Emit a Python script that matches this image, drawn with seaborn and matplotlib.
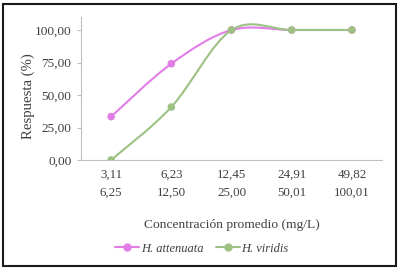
import numpy as np
import pandas as pd
import matplotlib
matplotlib.use("Agg")
import matplotlib.pyplot as plt
import seaborn as sns
from matplotlib.lines import Line2D
from matplotlib.path import Path
from matplotlib.patches import PathPatch, Rectangle

# data
conc_row1 = ["3,11", "6,23", "12,45", "24,91", "49,82"]
conc_row2 = ["6,25", "12,50", "25,00", "50,01", "100,01"]
attenuata = [33.33, 74.07, 100.0, 100.0, 100.0]
viridis = [0.0, 40.74, 100.0, 100.0, 100.0]
species = ["H. attenuata", "H. viridis"]
colors = {"H. attenuata": "#E07EE6", "H. viridis": "#9DC183"}

df = pd.DataFrame({
    "x": list(range(len(conc_row1))) * 2,
    "resp": attenuata + viridis,
    "sp": [species[0]] * len(attenuata) + [species[1]] * len(viridis),
})

sns.set_theme(style="white")
plt.rcParams["font.family"] = ["Liberation Serif", "DejaVu Serif"]
txt = "#404040"

fig = plt.figure(figsize=(4, 2.69), dpi=100)
ax = fig.add_axes([81 / 400, 1 - 160 / 269, 301 / 400, 143 / 269])


def smooth_path(xs, ys):
    # Excel-like smoothed line: cubic bezier through the points
    pts = np.column_stack([xs, ys]).astype(float)
    n = len(pts)
    verts = [pts[0]]
    codes = [Path.MOVETO]
    for i in range(n - 1):
        p0 = pts[i - 1] if i > 0 else pts[i]
        p1, p2 = pts[i], pts[i + 1]
        p3 = pts[i + 2] if i + 2 < n else pts[i + 1]
        verts += [p1 + (p2 - p0) / 6, p2 - (p3 - p1) / 6, p2]
        codes += [Path.CURVE4] * 3
    return Path(verts, codes)


for sp in species:
    d = df[df["sp"] == sp]
    ax.add_patch(PathPatch(smooth_path(d["x"], d["resp"]), fill=False,
                           edgecolor=colors[sp], lw=1.5, zorder=2))

sns.scatterplot(data=df, x="x", y="resp", hue="sp", palette=colors,
                s=30, edgecolor="none", legend=False, ax=ax, zorder=3)

ax.set_xlim(-0.5, 4.5)
ax.set_ylim(0, 110)
ax.set_yticks([0, 25, 50, 75, 100])
ax.set_yticklabels(["0,00", "25,00", "50,00", "75,00", "100,00"])
ax.set_xticks(range(len(conc_row1)))
ax.set_xticklabels([a + "\n" + b for a, b in zip(conc_row1, conc_row2)],
                   linespacing=1.75)
ax.set_xticks(np.arange(-0.5, 5, 1), minor=True)
ax.tick_params(axis="x", which="major", length=0, pad=6, labelsize=9.4,
               labelcolor=txt)
ax.tick_params(axis="x", which="minor", length=30, width=0.8,
               color="#d9d9d9", direction="out")
ax.tick_params(axis="y", which="major", left=True, length=3, width=0.8,
               color="#bfbfbf", pad=4, labelsize=9.6, labelcolor=txt)

for s in ["top", "right"]:
    ax.spines[s].set_visible(False)
for s in ["left", "bottom"]:
    ax.spines[s].set_color("#bfbfbf")
    ax.spines[s].set_linewidth(0.8)

ax.set_xlabel("Concentración promedio (mg/L)", fontsize=9.7, color=txt)
ax.set_ylabel("Respuesta (%)", fontsize=10.6, color=txt)
ax.xaxis.set_label_coords(0.502, -0.41)
ax.yaxis.set_label_coords(-0.152, 0.45)

handles = [Line2D([0], [0], color=colors[sp], lw=1.5, marker="o",
                  markersize=5, label=sp) for sp in species]
leg = fig.legend(handles=handles, loc="center", bbox_to_anchor=(0.505, 0.076),
                 ncol=2, frameon=False, fontsize=9.0, handlelength=1.9,
                 handletextpad=0.15, columnspacing=1.0)
for t in leg.get_texts():
    t.set_color(txt)
    t.set_fontstyle("italic")

fig.patches.append(Rectangle((3 / 400, 3 / 269), 393 / 400, 262 / 269,
                             transform=fig.transFigure, fill=False,
                             edgecolor="#1a1a1a", lw=1.5))

fig.savefig("out.png", dpi=100)
